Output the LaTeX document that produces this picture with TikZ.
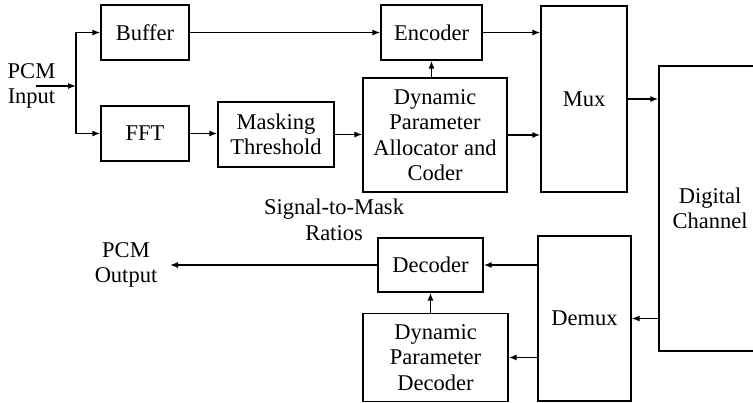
\documentclass[tikz,border=0pt]{standalone}
\usepackage{fontspec}
\setmainfont{Liberation Serif}
\usetikzlibrary{arrows.meta}
\begin{document}
\begin{tikzpicture}[x=1pt,y=-1pt,
  every node/.style={font=\fontsize{22.5}{25.5}\selectfont},
  blk/.style={draw,line width=1.3pt,inner sep=0pt,align=center},
  lbl/.style={inner sep=0pt,align=center},
  conn/.style={line width=1.3pt,-{Latex[length=8pt,width=6pt]}},
  wire/.style={line width=1.3pt}]
\useasboundingbox (0,0) rectangle (753,403);
% blocks
\node[blk,minimum width=88pt,minimum height=55pt] (buffer) at (145,32.5) {Buffer};
\node[blk,minimum width=88pt,minimum height=55pt] (fft) at (145,133.5) {FFT};
\node[blk,minimum width=116pt,minimum height=65pt] (mask) at (276,134.5) {Masking\\Threshold};
\node[blk,minimum width=144pt,minimum height=114pt] (dpac) at (435,135) {Dynamic\\Parameter\\Allocator and\\Coder};
\node[blk,minimum width=101pt,minimum height=55pt] (enc) at (431.5,32.5) {Encoder};
\node[blk,minimum width=86pt,minimum height=186pt] (mux) at (584,99) {Mux};
\node[blk,minimum width=102pt,minimum height=285pt] (chan) at (710,208.5) {Digital\\Channel};
\node[blk,minimum width=93pt,minimum height=165pt] (demux) at (584.5,318.5) {Demux};
\node[blk,minimum width=105pt,minimum height=54pt] (dec) at (430.5,265) {Decoder};
\node[blk,minimum width=145pt,minimum height=88pt] (dpd) at (435.5,357.5) {Dynamic\\Parameter\\Decoder};
% labels
\node[lbl] (pcmin) at (31.5,86) {PCM\\Input};
\node[lbl] (pcmout) at (126,265) {PCM\\Output};
\node[lbl] (smr) at (334,220) {Signal-to-Mask\\Ratios};
% coordinates
\coordinate (in) at (36,86);
\coordinate (split) at (76,86);
\coordinate (out) at (170,265);
% connectors
\draw[conn] (in) -- (split);
\draw[conn] (split) |- (buffer.west);
\draw[conn] (split) |- (fft.west);
\draw[conn] (buffer.east) -- (buffer.east -| enc.west);
\draw[conn] (fft.east) -- (fft.east -| mask.west);
\draw[conn] (mask.east) -- (mask.east -| dpac.west);
\draw[conn] (dpac.north -| enc.south) -- (enc.south);
\draw[conn] (enc.east) -- (enc.east -| mux.west);
\draw[conn] (dpac.east) -- (dpac.east -| mux.west);
\draw[conn] (mux.east) -- (mux.east -| chan.west);
\draw[conn] (chan.west |- demux.east) -- (demux.east);
\draw[conn] (demux.west |- dec.east) -- (dec.east);
\draw[conn] (demux.west |- dpd.east) -- (dpd.east);
\draw[conn] (dpd.north -| dec.south) -- (dec.south);
\draw[conn] (dec.west) -- (out);
\end{tikzpicture}
\end{document}
